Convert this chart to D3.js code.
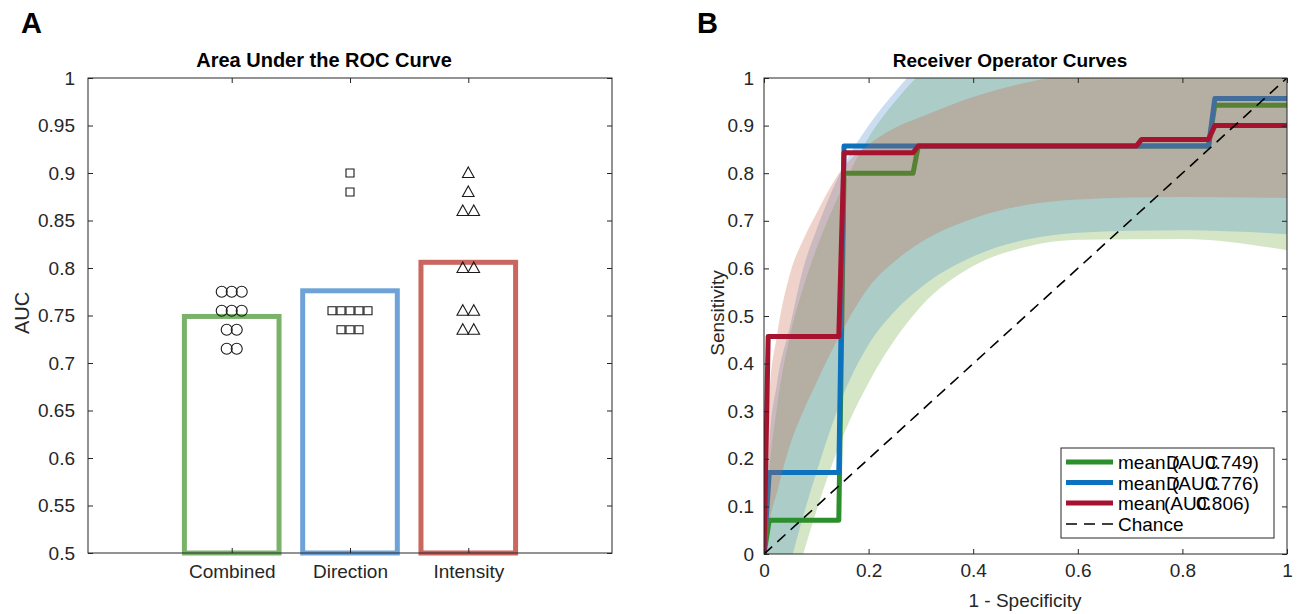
<!DOCTYPE html>
<html>
<head>
<meta charset="utf-8">
<script src="https://cdn.jsdelivr.net/npm/d3@7"></script>
<style>
  body { margin: 0; background: #fff; }
  text { font-family: "Liberation Sans", Arial, Helvetica, sans-serif; fill: #262626; }
</style>
</head>
<body>
<svg id="fig" width="1303" height="614"></svg>
<script>
// ---------- panel A data ----------
const aucCategories = ["Combined", "Direction", "Intensity"];
const aucMeans = [0.749, 0.776, 0.806];
const combinedAUC = [0.775, 0.775, 0.775, 0.755, 0.755, 0.755, 0.735, 0.735, 0.715, 0.715];
const directionAUC = [0.9, 0.88, 0.755, 0.755, 0.755, 0.755, 0.755, 0.735, 0.735, 0.735];
const intensityAUC = [0.9, 0.88, 0.86, 0.86, 0.8, 0.8, 0.755, 0.755, 0.735, 0.735];
const aucTicks = [0.5, 0.55, 0.6, 0.65, 0.7, 0.75, 0.8, 0.85, 0.9, 0.95, 1];
const aucTickLabels = ["0.5", "0.55", "0.6", "0.65", "0.7", "0.75", "0.8", "0.85", "0.9", "0.95", "1"];

// ---------- panel B data ----------
const rocTicksY = [0, 0.1, 0.2, 0.3, 0.4, 0.5, 0.6, 0.7, 0.8, 0.9, 1];
const rocTickLabelsY = ["0", "0.1", "0.2", "0.3", "0.4", "0.5", "0.6", "0.7", "0.8", "0.9", "1"];
const rocTicksX = [0, 0.2, 0.4, 0.6, 0.8, 1];
const rocTickLabelsX = ["0", "0.2", "0.4", "0.6", "0.8", "1"];

const combinedRocX = [0, 0.01, 0.143, 0.153, 0.285, 0.295, 0.85, 0.862, 1];
const combinedRocY = [0, 0.071, 0.071, 0.8, 0.8, 0.857, 0.857, 0.943, 0.943];
const directionRocX = [0, 0.01, 0.143, 0.153, 0.85, 0.862, 1];
const directionRocY = [0, 0.171, 0.171, 0.857, 0.857, 0.957, 0.957];
const intensityRocX = [0, 0.008, 0.143, 0.153, 0.285, 0.295, 0.712, 0.722, 0.85, 0.862, 1];
const intensityRocY = [0, 0.457, 0.457, 0.843, 0.843, 0.857, 0.857, 0.871, 0.871, 0.9, 0.9];

// confidence bands, sampled on a common FPR grid
const bandX = [0, 0.01, 0.025, 0.05, 0.075, 0.1, 0.15, 0.2, 0.25, 0.3, 0.4, 0.5, 0.6, 0.8, 1];
const combinedLo = [-0.5, -0.35, -0.22, -0.1, 0.0, 0.09, 0.245, 0.36, 0.45, 0.52, 0.605, 0.645, 0.66, 0.662, 0.638];
const combinedHi = [0, 0.17, 0.31, 0.46, 0.56, 0.64, 0.77, 0.875, 0.95, 1.01, 1.08, 1.12, 1.15, 1.18, 1.2];
const directionLo = [-0.3, -0.2, -0.12, -0.02, 0.08, 0.17, 0.33, 0.44, 0.51, 0.56, 0.625, 0.66, 0.675, 0.68, 0.672];
const directionHi = [0, 0.23, 0.36, 0.48, 0.6, 0.68, 0.81, 0.9, 0.97, 1.03, 1.1, 1.15, 1.18, 1.2, 1.2];
const intensityLo = [-0.05, 0.06, 0.13, 0.23, 0.3, 0.36, 0.47, 0.56, 0.615, 0.655, 0.705, 0.733, 0.745, 0.75, 0.748];
const intensityHi = [0, 0.33, 0.46, 0.59, 0.66, 0.715, 0.81, 0.86, 0.895, 0.918, 0.96, 0.99, 1.01, 1.03, 1.04];

const legendNames = ["mean", "mean", "mean"];
const legendInitial = ["D", "D", ""];
const legendAUC = ["0.749)", "0.776)", "0.806)"];

const svg = d3.select("#fig");
const axisColor = "#262626";

// ================= Panel A =================
const A = {left: 88, right: 612, top: 78, bottom: 553};
const xA = d3.scaleLinear().domain([-0.215, 4.215]).range([A.left, A.right]);
const yA = d3.scaleLinear().domain([0.5, 1]).range([A.bottom, A.top]);
const barColors = ["#7ab26a", "#6fa3d8", "#c8665f"];

const gA = svg.append("g");

// bars (outlined)
const step = xA(2) - xA(1);
gA.selectAll("rect.bar")
    .data(aucMeans)
    .join("rect")
    .attr("class", "bar")
    .attr("x", (d, i) => xA(i + 1) - 0.4 * step)
    .attr("width", 0.8 * step)
    .attr("y", d => yA(d))
    .attr("height", d => yA(0.5) - yA(d))
    .attr("fill", "none")
    .attr("stroke", (d, i) => barColors[i])
    .attr("stroke-width", 5);

// swarm-ish markers: same values placed side by side
function spread(values, gap) {
    let counts = {};
    values.forEach(v => counts[v] = (counts[v] || 0) + 1);
    let seen = {};
    return values.map(v => {
        let k = seen[v] || 0;
        seen[v] = k + 1;
        return {v: v, off: (k - (counts[v] - 1) / 2) * gap};
    });
}

const markerGroups = [combinedAUC, directionAUC, intensityAUC];
const gaps = [10, 9, 11];
markerGroups.forEach((vals, gi) => {
    let pts = spread(vals, gaps[gi]);
    let cx = xA(gi + 1);
    let sel = gA.append("g").selectAll("path")
        .data(pts)
        .join("path")
        .attr("fill", "none")
        .attr("stroke", "#1a1a1a")
        .attr("stroke-width", 1.1)
        .attr("transform", d => `translate(${cx + d.off},${yA(d.v)})`);
    if (gi === 0) {
        sel.attr("d", d3.symbol().type(d3.symbolCircle).size(Math.PI * 5.5 * 5.5));
    } else if (gi === 1) {
        sel.attr("d", "M-4,-4H4V4H-4Z");
    } else {
        sel.attr("d", "M0,-6L5.8,4.5H-5.8Z");
    }
});

// box
gA.append("rect")
    .attr("x", A.left).attr("y", A.top)
    .attr("width", A.right - A.left).attr("height", A.bottom - A.top)
    .attr("fill", "none").attr("stroke", axisColor).attr("stroke-width", 1);

// y ticks
gA.append("g")
    .attr("transform", `translate(${A.left},0)`)
    .call(d3.axisLeft(yA).tickValues(aucTicks).tickFormat((d, i) => aucTickLabels[i]).tickSize(-5).tickPadding(13))
    .call(g => g.select(".domain").remove())
    .call(g => g.selectAll("line").attr("stroke", axisColor))
    .call(g => g.selectAll("text").style("font-size", "19px").attr("fill", axisColor));
gA.append("g")
    .attr("transform", `translate(${A.right},0)`)
    .call(d3.axisRight(yA).tickValues(aucTicks).tickFormat("").tickSize(-5))
    .call(g => g.select(".domain").remove())
    .call(g => g.selectAll("line").attr("stroke", axisColor));

// x ticks
gA.append("g")
    .attr("transform", `translate(0,${A.bottom})`)
    .call(d3.axisBottom(xA).tickValues([1, 2, 3]).tickFormat((d, i) => aucCategories[i]).tickSize(-5).tickPadding(12))
    .call(g => g.select(".domain").remove())
    .call(g => g.selectAll("line").attr("stroke", axisColor))
    .call(g => g.selectAll("text").style("font-size", "19px").attr("fill", axisColor));
gA.append("g")
    .attr("transform", `translate(0,${A.top})`)
    .call(d3.axisTop(xA).tickValues([1, 2, 3]).tickFormat("").tickSize(-5))
    .call(g => g.select(".domain").remove())
    .call(g => g.selectAll("line").attr("stroke", axisColor));

gA.append("text")
    .attr("transform", `translate(29,313) rotate(-90)`)
    .attr("text-anchor", "middle")
    .style("font-size", "20px")
    .text("AUC");

gA.append("text")
    .attr("x", 324).attr("y", 67)
    .attr("text-anchor", "middle")
    .style("font-size", "20px").style("font-weight", "bold")
    .style("fill", "#000")
    .text("Area Under the ROC Curve");

svg.append("text")
    .attr("x", 21).attr("y", 33)
    .style("font-size", "29px").style("font-weight", "bold")
    .style("fill", "#000")
    .text("A");

// ================= Panel B =================
const B = {left: 764, right: 1287, top: 78, bottom: 554};
const xB = d3.scaleLinear().domain([0, 1]).range([B.left, B.right]);
const yB = d3.scaleLinear().domain([0, 1]).range([B.bottom, B.top]);

const gB = svg.append("g");
gB.append("clipPath").attr("id", "clipB")
    .append("rect")
    .attr("x", B.left).attr("y", B.top)
    .attr("width", B.right - B.left).attr("height", B.bottom - B.top);

const plot = gB.append("g").attr("clip-path", "url(#clipB)");

const band = d3.area()
    .x(d => xB(d.x))
    .y0(d => yB(d.lo))
    .y1(d => yB(d.hi))
    .curve(d3.curveMonotoneX);
const rocLine = d3.line()
    .x(d => xB(d[0]))
    .y(d => yB(d[1]));

function bandData(lo, hi) {
    return bandX.map((x, i) => ({x: x, lo: lo[i], hi: hi[i]}));
}
function lineData(xs, ys) {
    return xs.map((x, i) => [x, ys[i]]);
}

const lineColors = ["#2b8f2b", "#0d72bd", "#a5132f"];
const bandColors = ["#6aaa3a", "#4d8fd0", "#c8644a"];

function drawBand(lo, hi, i) {
    plot.append("path")
        .datum(bandData(lo, hi))
        .attr("d", band)
        .attr("fill", bandColors[i])
        .attr("fill-opacity", 0.29);
}
function drawLine(xs, ys, i) {
    plot.append("path")
        .datum(lineData(xs, ys))
        .attr("d", rocLine)
        .attr("fill", "none")
        .attr("stroke", lineColors[i])
        .attr("stroke-width", 5)
        .attr("stroke-linejoin", "round");
}

drawBand(combinedLo, combinedHi, 0);
drawBand(directionLo, directionHi, 1);
drawLine(combinedRocX, combinedRocY, 0);
drawLine(directionRocX, directionRocY, 1);
drawBand(intensityLo, intensityHi, 2);
drawLine(intensityRocX, intensityRocY, 2);

// chance line
plot.append("path")
    .datum([[0, 0], [1, 1]])
    .attr("d", rocLine)
    .attr("stroke", "#000")
    .attr("stroke-width", 1.6)
    .attr("stroke-dasharray", "11,7")
    .attr("fill", "none");

// box + ticks
gB.append("rect")
    .attr("x", B.left).attr("y", B.top)
    .attr("width", B.right - B.left).attr("height", B.bottom - B.top)
    .attr("fill", "none").attr("stroke", axisColor).attr("stroke-width", 1);

gB.append("g")
    .attr("transform", `translate(${B.left},0)`)
    .call(d3.axisLeft(yB).tickValues(rocTicksY).tickFormat((d, i) => rocTickLabelsY[i]).tickSize(-5).tickPadding(10))
    .call(g => g.select(".domain").remove())
    .call(g => g.selectAll("line").attr("stroke", axisColor))
    .call(g => g.selectAll("text").style("font-size", "19px").attr("fill", axisColor));
gB.append("g")
    .attr("transform", `translate(${B.right},0)`)
    .call(d3.axisRight(yB).tickValues(rocTicksY).tickFormat("").tickSize(-5))
    .call(g => g.select(".domain").remove())
    .call(g => g.selectAll("line").attr("stroke", axisColor));
gB.append("g")
    .attr("transform", `translate(0,${B.bottom})`)
    .call(d3.axisBottom(xB).tickValues(rocTicksX).tickFormat((d, i) => rocTickLabelsX[i]).tickSize(-5).tickPadding(10))
    .call(g => g.select(".domain").remove())
    .call(g => g.selectAll("line").attr("stroke", axisColor))
    .call(g => g.selectAll("text").style("font-size", "19px").attr("fill", axisColor));
gB.append("g")
    .attr("transform", `translate(0,${B.top})`)
    .call(d3.axisTop(xB).tickValues(rocTicksX).tickFormat("").tickSize(-5))
    .call(g => g.select(".domain").remove())
    .call(g => g.selectAll("line").attr("stroke", axisColor));

gB.append("text")
    .attr("transform", `translate(724,313) rotate(-90)`)
    .attr("text-anchor", "middle")
    .style("font-size", "19px")
    .text("Sensitivity");
gB.append("text")
    .attr("x", 1025).attr("y", 607)
    .attr("text-anchor", "middle")
    .style("font-size", "19px")
    .text("1 - Specificity");
gB.append("text")
    .attr("x", 1010).attr("y", 67)
    .attr("text-anchor", "middle")
    .style("font-size", "19px").style("font-weight", "bold")
    .style("fill", "#000")
    .text("Receiver Operator Curves");

svg.append("text")
    .attr("x", 697).attr("y", 33)
    .style("font-size", "29px").style("font-weight", "bold")
    .style("fill", "#000")
    .text("B");

// legend (labels overlap the way the original rendering does)
const leg = gB.append("g");
leg.append("rect")
    .attr("x", 1061).attr("y", 448)
    .attr("width", 213).attr("height", 90)
    .attr("fill", "#fff").attr("stroke", axisColor).attr("stroke-width", 1);
const rowY = [462, 482.5, 503, 524];
const parenX = [1172, 1172, 1164];
const valX = [1205, 1205, 1196];
legendNames.forEach((name, i) => {
    leg.append("line")
        .attr("x1", 1066).attr("x2", 1113)
        .attr("y1", rowY[i]).attr("y2", rowY[i])
        .attr("stroke", lineColors[i]).attr("stroke-width", 5);
    leg.append("text").attr("x", 1118).attr("y", rowY[i] + 7)
        .style("font-size", "19px").style("fill", "#000").text(name);
    if (legendInitial[i]) {
        leg.append("text").attr("x", 1166).attr("y", rowY[i] + 7)
            .style("font-size", "19px").style("fill", "#000").text(legendInitial[i]);
    }
    leg.append("text").attr("x", parenX[i]).attr("y", rowY[i] + 7)
        .style("font-size", "19px").style("fill", "#000").text("(AUC");
    leg.append("text").attr("x", valX[i]).attr("y", rowY[i] + 7)
        .style("font-size", "19px").style("fill", "#000").text(legendAUC[i]);
});
leg.append("line")
    .attr("x1", 1066).attr("x2", 1113)
    .attr("y1", rowY[3]).attr("y2", rowY[3])
    .attr("stroke", "#000").attr("stroke-width", 1.6)
    .attr("stroke-dasharray", "11,7");
leg.append("text").attr("x", 1118).attr("y", rowY[3] + 7)
    .style("font-size", "19px").style("fill", "#000").text("Chance");
</script>
</body>
</html>
